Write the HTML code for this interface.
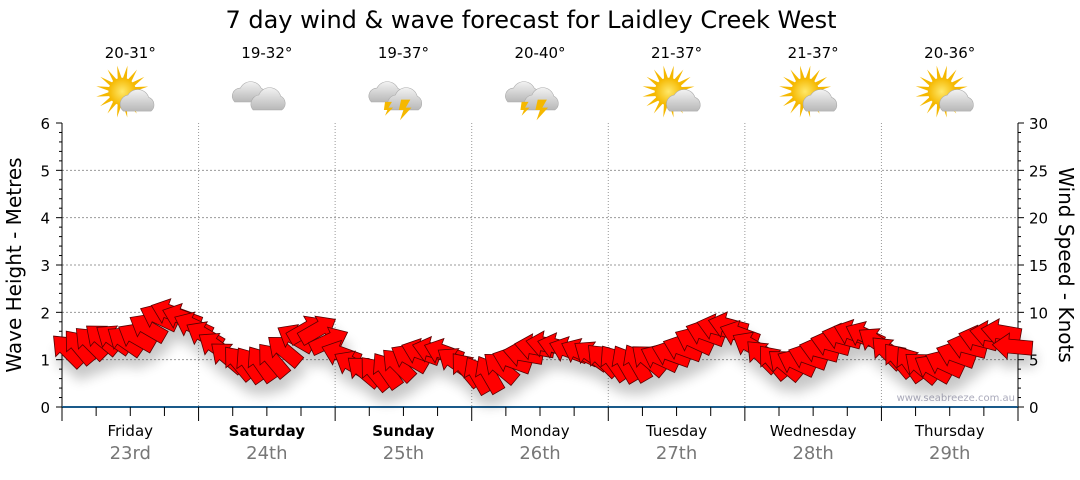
<!DOCTYPE html>
<html><head><meta charset="utf-8"><style>
body{margin:0;background:#fff;font-family:"Liberation Sans","DejaVu Sans",sans-serif}
svg text{font-family:"DejaVu Sans","Liberation Sans",sans-serif}
</style></head><body>
<svg id="chart" width="1080" height="475" viewBox="0 0 1080 475" xmlns="http://www.w3.org/2000/svg">
<defs>
<filter id="sh" x="-50%" y="-50%" width="200%" height="250%"><feGaussianBlur in="SourceAlpha" stdDeviation="6"/><feOffset dx="3" dy="12"/><feComponentTransfer><feFuncA type="linear" slope="0.22"/></feComponentTransfer><feMerge><feMergeNode/><feMergeNode in="SourceGraphic"/></feMerge></filter>
<radialGradient id="sun" cx="50%" cy="50%" r="50%"><stop offset="0" stop-color="#ffe86a"/><stop offset="1" stop-color="#f5b800"/></radialGradient>
<linearGradient id="cl" x1="0" y1="0" x2="0" y2="1"><stop offset="0" stop-color="#f2f2f2"/><stop offset="1" stop-color="#b8b8b8"/></linearGradient>
</defs>
<text x="531" y="28" font-size="24" text-anchor="middle">7 day wind &amp; wave forecast for Laidley Creek West</text>
<g id="topg"></g>
<g id="grid"></g>
<g id="axes"></g>
<text x="1015" y="401" font-size="10" fill="#aab" text-anchor="end">www.seabreeze.com.au</text>
<g id="arrows" filter="url(#sh)"></g>
<text transform="translate(21,265) rotate(-90)" font-size="20" text-anchor="middle">Wave Height - Metres</text>
<text transform="translate(1059,265) rotate(90)" font-size="20" text-anchor="middle">Wind Speed - Knots</text>
</svg>
<script>
const days=["Friday","Saturday","Sunday","Monday","Tuesday","Wednesday","Thursday"];
const dates=["23rd","24th","25th","26th","27th","28th","29th"];
const bold=[false,true,true,false,false,false,false];
const temps=["20-31°","19-32°","19-37°","20-40°","21-37°","21-37°","20-36°"];
const icons=["suncloud","cloud","storm","storm","suncloud","suncloud","suncloud"];
const waveTicks=[0,1,2,3,4,5,6];
const windTicks=[0,5,10,15,20,25,30];
// wind speed (knots) every 2 hours
const windSpeed=[6.0,6.4,6.8,7.2,7.2,7.0,7.4,8.4,9.5,10.0,
9.5,8.6,7.6,6.4,5.3,4.7,4.5,4.6,5.0,6.0,
7.3,8.2,8.2,7.0,5.6,4.5,3.8,3.6,3.9,4.5,
5.2,5.8,6.0,5.8,4.8,4.0,3.4,3.5,4.2,4.9,
5.6,6.3,6.6,6.4,6.0,5.8,5.5,5.0,4.7,4.6,
4.7,5.0,5.2,5.6,6.2,7.0,7.8,8.4,8.6,7.7,
6.5,5.4,4.8,4.5,4.7,5.3,6.0,6.7,7.4,7.8,
7.6,6.9,5.8,5.0,4.6,4.2,4.1,4.6,5.5,6.4,
7.2,7.7,7.9,6.4];
// arrow pointing direction, degrees clockwise from "left"
const windDir=[45,50,45,40,35,35,30,30,25,20,
20,25,30,35,40,50,55,55,50,40,
30,150,150,155,20,30,40,50,55,45,
30,20,15,20,35,50,60,60,40,20,
10,10,10,15,20,25,35,45,55,60,
60,40,25,20,20,25,20,15,15,20,
30,45,50,40,25,20,15,15,15,20,
25,35,45,50,55,40,30,25,20,15,
15,10,10,5];
const X0=62,X1=1018,Y0=407,Y1=123;
const dayW=(X1-X0)/7;
const ns="http://www.w3.org/2000/svg";
function mk(t,a,p){const e=document.createElementNS(ns,t);for(const k in a)e.setAttribute(k,a[k]);(p||document.getElementById('chart')).appendChild(e);return e;}
const xT=i=>X0+(i+0.5)*(X1-X0)/windSpeed.length;
const yW=k=>Y0-k*(Y0-Y1)/30;
const yM=m=>Y0-m*(Y0-Y1)/6;
const gridG=document.getElementById('grid'),axesG=document.getElementById('axes'),topG=document.getElementById('topg'),arrG=document.getElementById('arrows');
waveTicks.forEach(v=>{
  if(v>0&&v<6){const g=mk('line',{x1:X0,x2:X1,y1:yM(v),y2:yM(v),stroke:'#999','stroke-dasharray':'2,2'},gridG);}
  const t=mk('text',{x:50,y:yM(v)+6,'font-size':15,'text-anchor':'end'},axesG);t.textContent=v;
  
});
windTicks.forEach(v=>{const t=mk('text',{x:1029,y:yW(v)+6,'font-size':15},axesG);t.textContent=v;
  });
for(let m=0;m<=30;m++){const y=Y0-m*(Y0-Y1)/30;mk('line',{x1:X0-(m%5==0?6:3),x2:X0,y1:y,y2:y,stroke:'#000'},axesG);mk('line',{x1:X1,x2:X1+(m%5==0?6:3),y1:y,y2:y,stroke:'#000'},axesG);}
mk('line',{x1:X0,x2:X0,y1:Y1,y2:Y0,stroke:'#000'},axesG);
mk('line',{x1:X1,x2:X1,y1:Y1,y2:Y0,stroke:'#000'},axesG);
const xa=mk('line',{x1:X0,x2:X1,y1:Y0,y2:Y0,stroke:'#1a5a8a','stroke-width':2},axesG);

for(let q=0;q<=28;q++){const x=X0+q*dayW/4;mk('line',{x1:x,x2:x,y1:Y0,y2:Y0+(q%4==0?14:9),stroke:'#000'},axesG);}
days.forEach((d,i)=>{
  const cx=X0+(i+0.5)*dayW;
  if(i>0){const g=mk('line',{x1:X0+i*dayW,x2:X0+i*dayW,y1:Y1,y2:Y0,stroke:'#999','stroke-dasharray':'1,2'},gridG);}
  const a=mk('text',{x:cx,y:436,'font-size':15,'text-anchor':'middle','font-weight':bold[i]?'bold':'normal'},axesG);a.textContent=d;
  
  const b=mk('text',{x:cx,y:459,'font-size':18,'text-anchor':'middle',fill:'#777'},axesG);b.textContent=dates[i];
  
  const t=mk('text',{x:cx,y:58,'font-size':15,'text-anchor':'middle'},topG);t.textContent=temps[i];
  
  const g=mk('g',{transform:`translate(${cx},95) scale(1.15)`},topG);
  
  const ic=icons[i];
  if(ic=='suncloud'){
    for(let r=0;r<16;r++){const an=r*Math.PI/8;mk('polygon',{points:`${-7+Math.cos(an)*10},${-3+Math.sin(an)*10} ${-7+Math.cos(an+0.2)*23},${-3+Math.sin(an+0.2)*23} ${-7+Math.cos(an+0.4)*10},${-3+Math.sin(an+0.4)*10}`,fill:'#f5b800'},g);}
    mk('circle',{cx:-7,cy:-3,r:12,fill:'url(#sun)'},g);
    mk('path',{d:'M-6,14 a8,8 0 0 1 4,-14 a10,10 0 0 1 18,2 a7,7 0 0 1 2,12z',fill:'url(#cl)',stroke:'#aaa','stroke-width':0.5},g);
  } else {
    mk('path',{d:'M-28,6 a7,7 0 0 1 5,-12 a10,10 0 0 1 18,0 a7,7 0 0 1 1,12z',fill:'url(#cl)',stroke:'#aaa','stroke-width':0.5},g);
    mk('path',{d:'M-12,13 a8,8 0 0 1 5,-13 a10,10 0 0 1 19,1 a7,7 0 0 1 1,12z',fill:'url(#cl)',stroke:'#aaa','stroke-width':0.5},g);
    if(ic=='storm'){mk('polygon',{points:'-2,4 6,4 2,11 7,11 -3,22 0,13 -4,13',fill:'#f5b800'},g);mk('polygon',{points:'-16,6 -10,6 -13,11 -9,11 -16,18 -14,13 -17,13',fill:'#f5b800'},g);}
  }
});
windSpeed.forEach((k,i)=>{
  const p=mk('polygon',{points:'-20,0 -4,-13 -4,-7 20,-7 20,7 -4,7 -4,13',fill:'#f00',stroke:'#500','stroke-width':0.8,transform:`translate(${xT(i)},${yW(k)}) rotate(${windDir[i]})`},arrG);
  
  
});
</script>
</body></html>
